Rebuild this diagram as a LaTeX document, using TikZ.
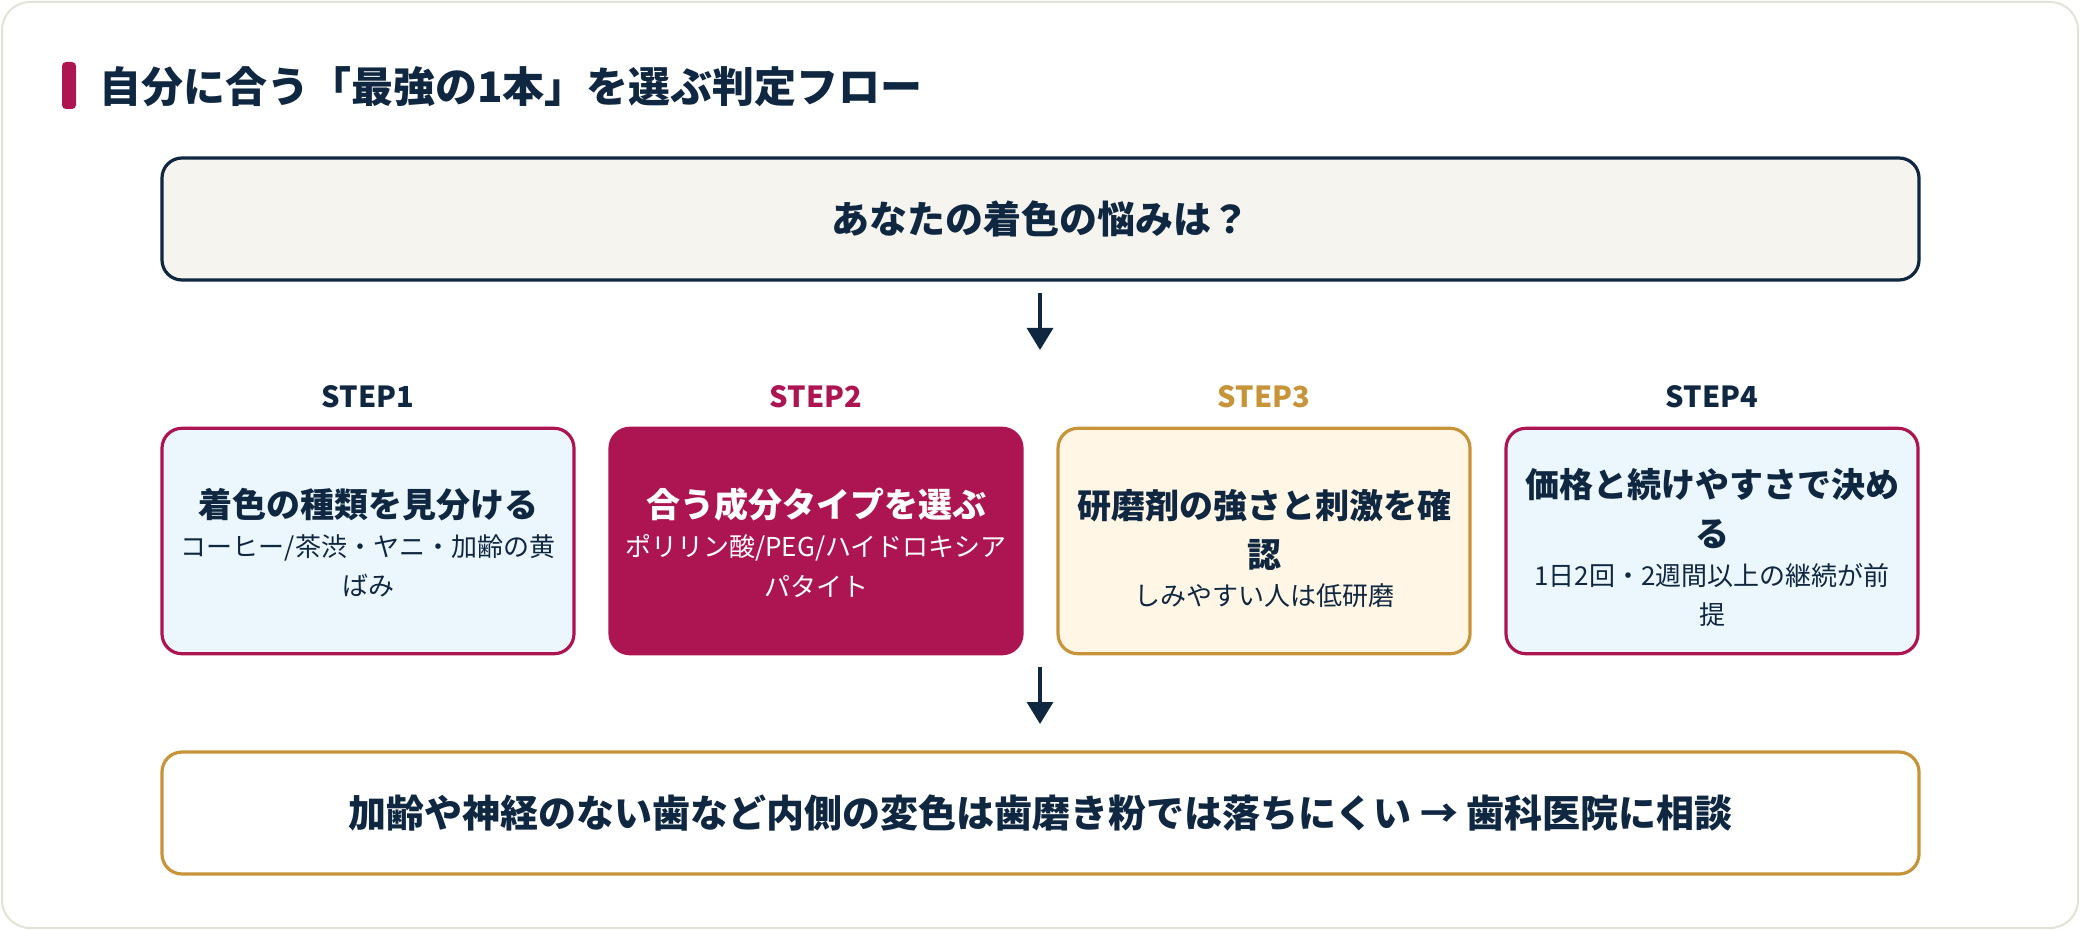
\documentclass[tikz,border=0pt]{standalone}
\usepackage{fontspec}
\setmainfont{Noto Sans CJK JP}
\usetikzlibrary{arrows.meta}
\definecolor{navy}{HTML}{0F2740}
\definecolor{crimson}{HTML}{AD1552}
\definecolor{gold}{HTML}{C8943A}
\definecolor{lightblue}{HTML}{EBF7FC}
\definecolor{cream}{HTML}{FFF6E6}
\definecolor{paper}{HTML}{F5F4EF}
\definecolor{cardline}{HTML}{E4E1D6}
\tikzset{
  stepbox/.style={rounded corners=10pt, line width=1.6pt, minimum width=206pt, minimum height=112.75pt, inner sep=0pt},
  widebox/.style={rounded corners=10pt, line width=1.6pt, minimum width=878.5pt, minimum height=61pt, inner sep=0pt},
  steplabel/.style={font=\fontsize{14.5}{17}\selectfont\bfseries, inner sep=0pt},
  ttl/.style={font=\fontsize{17}{24.5}\selectfont\bfseries, align=center, text=navy, inner sep=0pt},
  subtxt/.style={font=\fontsize{13}{19.8}\selectfont, align=center, text=navy, inner sep=0pt},
  bigtxt/.style={font=\fontsize{19}{22}\selectfont\bfseries, text=navy, inner sep=0pt},
  flow/.style={draw=navy, line width=1.6pt, -{Triangle[length=11pt,width=13pt]}},
}
\begin{document}
\begin{tikzpicture}[x=0.5pt,y=-0.5pt]
\useasboundingbox (0,0) rectangle (2080,930);
\fill[white] (0,0) rectangle (2080,930);
\draw[cardline, line width=1pt, fill=white, rounded corners=14pt] (2,2) rectangle (2078,928);
% title
\fill[crimson, rounded corners=2pt] (62,62) rectangle (76,109);
\node[anchor=west, font=\fontsize{21}{25}\selectfont\bfseries, text=navy, inner sep=0pt] (title) at (99,87) {自分に合う「最強の1本」を選ぶ判定フロー};
% top box
\node[widebox, draw=navy, fill=paper] (top) at (1040.5,219) {};
\node[bigtxt] (toptxt) at (top.center) {あなたの着色の悩みは？};
% arrow 1
\coordinate (a1s) at (1040,293);
\coordinate (a1e) at (1040,350);
\draw[flow] (a1s) -- (a1e);
% step labels
\node[steplabel, text=navy] (l1) at (368,397) {STEP1};
\node[steplabel, text=crimson] (l2) at (816,397) {STEP2};
\node[steplabel, text=gold] (l3) at (1264,397) {STEP3};
\node[steplabel, text=navy] (l4) at (1712,397) {STEP4};
% step boxes
\node[stepbox, draw=crimson, fill=lightblue] (s1) at (368,541) {};
\node[stepbox, draw=crimson, fill=crimson] (s2) at (816,541) {};
\node[stepbox, draw=gold, fill=cream] (s3) at (1264,541) {};
\node[stepbox, draw=crimson, fill=lightblue] (s4) at (1712,541) {};
% step texts
\node[ttl] (t1) at (368,505) {着色の種類を見分ける};
\node[subtxt] (u1) at (368,566) {コーヒー/茶渋・ヤニ・加齢の黄\\ばみ};
\node[ttl, text=white] (t2) at (816,505) {合う成分タイプを選ぶ};
\node[subtxt, text=white] (u2) at (816,566) {ポリリン酸/PEG/ハイドロキシア\\パタイト};
\node[ttl] (t3) at (1264,530) {研磨剤の強さと刺激を確\\認};
\node[subtxt] (u3) at (1264,596) {しみやすい人は低研磨};
\node[ttl] (t4) at (1712,508.5) {価格と続けやすさで決め\\る};
\node[subtxt] (u4) at (1712,595) {1日2回・2週間以上の継続が前\\提};
% arrow 2
\coordinate (a2s) at (1040,667);
\coordinate (a2e) at (1040,724);
\draw[flow] (a2s) -- (a2e);
% bottom box
\node[widebox, draw=gold, fill=white] (bot) at (1040.5,813) {};
\node[bigtxt] (bottxt) at (bot.center) {加齢や神経のない歯など内側の変色は歯磨き粉では落ちにくい → 歯科医院に相談};
\end{tikzpicture}
\end{document}
